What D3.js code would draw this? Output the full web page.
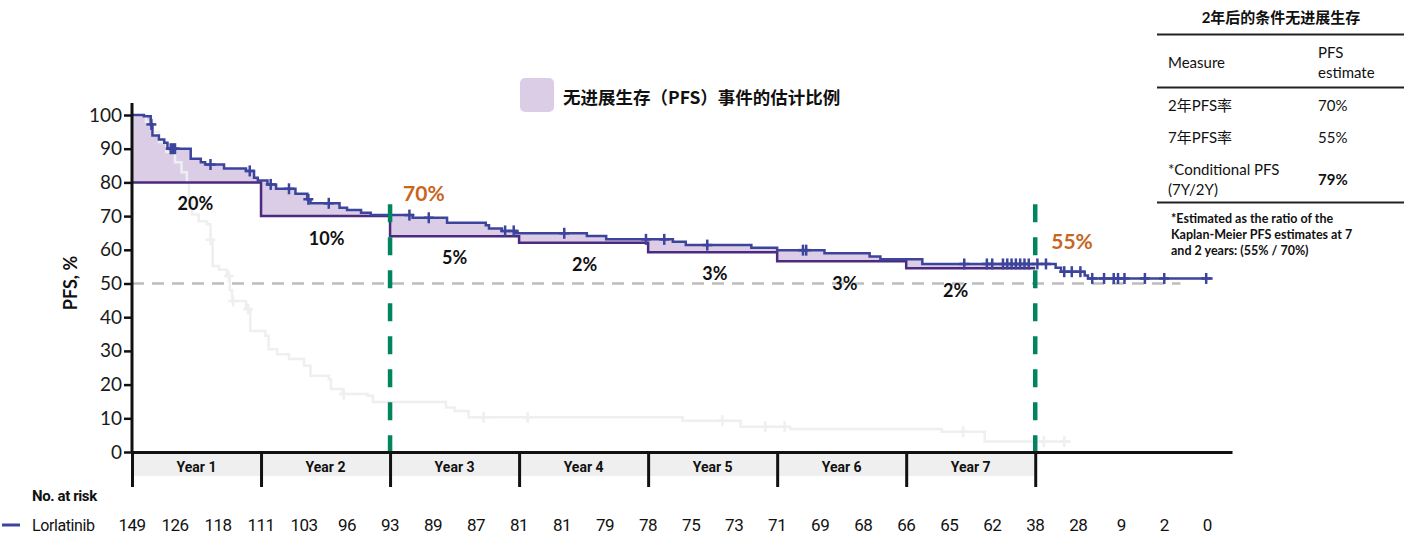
<!DOCTYPE html>
<html>
<head>
<meta charset="utf-8">
<script src="https://cdn.jsdelivr.net/npm/d3@7"></script>
<style>
body { margin: 0; background: #fff; }
svg { display: block; }
</style>
</head>
<body>
<script>
// Lorlatinib KM steps: [month, PFS %] (value after the step)
var lorlatinibSteps = [[0,100],[1.1,99.6],[1.74,97.2],[1.9,93.9],[2.5,92.7],[3.0,91.8],[3.3,90],[5.46,87],[6.4,86],[6.8,85.3],
    [8.56,84.1],[10.6,83.4],[11.35,81.4],[11.7,80.6],[12.6,79.4],[13.4,78.1],[15.2,76.6],[16.3,75],[16.6,73.8],[19.3,72.5],
    [20.0,71.8],[21.3,71.0],[22.2,70.3],[26.1,69.5],[29.3,68.0],[32.9,67.3],[33.2,66.3],[34.4,65.6],[35.7,64.9],[42.3,64.1],
    [44.1,63.1],[50.3,62.4],[51.5,61.4],[57.6,60.6],[60.0,59.9],[64.4,59.0],[68.6,58.0],[69.6,57.2],[73.5,55.8],[85.9,54.7],
    [86.4,53.5],[88.6,52.4],[88.9,51.5],[100.5,51.5]];
var lorlatinibCensor = [1.8,3.6,3.8,4.0,7.3,10.95,12.9,14.6,16.4,18.3,25.8,27.6,34.7,35.5,40.2,47.8,49.5,53.5,62.4,62.7,
    77.4,79.5,80.0,81.0,81.4,81.8,82.2,82.6,83.0,83.4,84.2,85.0,86.7,87.4,88.2,89.3,90.4,91.3,91.7,92.3,94.2,96.0,99.9];

// faded comparator curve
var comparatorSteps = [[0,100],[1.3,98],[1.9,95],[2.5,92],[3.2,89],[4.0,86],[4.6,83],[5.1,80],[5.3,75],[5.6,70.5],[6.2,68.5],
    [7.0,67.6],[7.3,63],[7.5,55.2],[8.1,54.1],[8.8,52.2],[9.1,48],[9.3,44.8],[10.6,42.4],[11.0,35.9],[12.4,34.5],[12.7,30.5],
    [13.5,29],[14.6,27.6],[16.0,25.6],[16.6,22.6],[18.3,21.6],[18.5,18.7],[19.6,17.2],[21.9,16.7],[22.4,14.8],[29.2,13.2],
    [30.0,12.2],[31.3,10.3],[51.2,9.3],[56.6,7.5],[61.2,6.8],[75.3,6.0],[79.3,3.1],[87.3,3.1]];
var comparatorCensor = [7.3,9.0,9.4,10.8,19.7,32.7,36.8,54.9,58.9,60.7,77.3,84.8,86.7];

// PFS at end of each year (floor of shaded area)
var yearFloors = [80, 70, 64, 62.1, 59.3, 56.6, 54.5];
var yearLabels = ["Year 1","Year 2","Year 3","Year 4","Year 5","Year 6","Year 7"];
var eventLabels = ["20%","10%","5%","2%","3%","3%","2%"];
var eventLabelPos = [[5.9,73.8],[18.1,63.5],[30.0,57.8],[42.1,55.8],[54.2,53.1],[66.3,50.1],[76.6,48.1]];
var markMonths = [24, 84];
var markLabels = ["70%", "55%"];
var riskCounts = [149,126,118,111,103,96,93,89,87,81,81,79,78,75,73,71,69,68,66,65,62,38,28,9,2,0];
var yTicks = [0,10,20,30,40,50,60,70,80,90,100];

var tableRows = [["2年PFS率","70%"],["7年PFS率","55%"]];

var fontLat = "Lato, 'Noto Sans', sans-serif";
var fontCjk = "Lato, 'Noto Sans CJK SC', sans-serif";
var fontNum = "Roboto, sans-serif";
var kmColor = "#3c449c", floorColor = "#4b2a80", fillColor = "#dccde7";
var greenColor = "#00855f", orange = "#c9651c", fadedColor = "#efefef";

var svg = d3.select("body").append("svg").attr("width", 1415).attr("height", 545);

var x = d3.scaleLinear().domain([0, 102.3]).range([132, 1232]);
var y = d3.scaleLinear().domain([0, 100]).range([452, 115]);

function stepVal(steps, m) {
    var v = steps[0][1];
    steps.forEach(function(s) { if (s[0] <= m) v = s[1]; });
    return v;
}
function floorAt(m) { return yearFloors[Math.min(yearFloors.length - 1, Math.floor(m / 12))]; }

// year band under axis
svg.append("rect").attr("x", x(0)).attr("y", 454).attr("width", x(84) - x(0)).attr("height", 22).attr("fill", "#efefef");

// shaded area between KM and year floor
var areaMonths = lorlatinibSteps.map(function(s) { return s[0]; }).filter(function(m) { return m < 84; });
d3.range(0, 85, 12).forEach(function(m) { areaMonths.push(m); });
areaMonths = Array.from(new Set(areaMonths)).sort(function(a, b) { return a - b; });
var area = d3.area().curve(d3.curveStepAfter)
    .x(function(m) { return x(m); })
    .y0(function(m) { return y(floorAt(m)); })
    .y1(function(m) { return y(stepVal(lorlatinibSteps, m)); });
svg.append("path").datum(areaMonths).attr("d", area).attr("fill", fillColor);

var line = d3.line().curve(d3.curveStepAfter).x(function(d) { return x(d[0]); }).y(function(d) { return y(d[1]); });

// comparator (faded)
svg.append("path").datum(comparatorSteps).attr("d", line).attr("fill", "none").attr("stroke", fadedColor).attr("stroke-width", 2.5);
function censorMarks(months, steps, color) {
    var g = svg.append("g").attr("stroke", color).attr("stroke-width", 2.5);
    months.forEach(function(m) {
        var cx = x(m), cy = y(stepVal(steps, m));
        g.append("line").attr("x1", cx).attr("x2", cx).attr("y1", cy - 5.5).attr("y2", cy + 5.5);
        g.append("line").attr("x1", cx - 5).attr("x2", cx + 5).attr("y1", cy).attr("y2", cy);
    });
}
censorMarks(comparatorCensor, comparatorSteps, fadedColor);

// 50% reference
svg.append("line").attr("x1", x(0)).attr("x2", x(97.5)).attr("y1", y(50)).attr("y2", y(50))
    .attr("stroke", "#bdbdbd").attr("stroke-width", 2.5).attr("stroke-dasharray", "12,8");

// floors
var floorPts = yearFloors.map(function(v, i) { return [i * 12, v]; });
floorPts.push([84, yearFloors[yearFloors.length - 1]]);
svg.append("path").datum(floorPts).attr("d", line).attr("fill", "none").attr("stroke", floorColor).attr("stroke-width", 2.5);

// KM
svg.append("path").datum(lorlatinibSteps).attr("d", line).attr("fill", "none").attr("stroke", kmColor).attr("stroke-width", 2.5);
censorMarks(lorlatinibCensor, lorlatinibSteps, kmColor);

// green markers
markMonths.forEach(function(m) {
    svg.append("line").attr("x1", x(m)).attr("x2", x(m)).attr("y1", y(73.5)).attr("y2", y(0))
        .attr("stroke", greenColor).attr("stroke-width", 4.5).attr("stroke-dasharray", "18,15");
});
svg.append("text").attr("x", x(24) + 13).attr("y", 192).attr("dominant-baseline", "central")
    .attr("font-family", fontLat).attr("font-weight", 700).attr("font-size", 21).attr("fill", orange).text(markLabels[0]);
svg.append("text").attr("x", x(84) + 16).attr("y", 240).attr("dominant-baseline", "central")
    .attr("font-family", fontLat).attr("font-weight", 700).attr("font-size", 21).attr("fill", orange).text(markLabels[1]);

// event labels
svg.append("g").selectAll("text").data(eventLabels).join("text")
    .attr("x", function(d, i) { return x(eventLabelPos[i][0]); })
    .attr("y", function(d, i) { return y(eventLabelPos[i][1]); })
    .attr("text-anchor", "middle").attr("dominant-baseline", "central")
    .attr("font-family", fontLat).attr("font-weight", 700).attr("font-size", 18).attr("fill", "#111")
    .text(function(d) { return d; });

// axes
var yAxis = svg.append("g").attr("transform", "translate(" + x(0) + ",0)")
    .call(d3.axisLeft(y).tickValues(yTicks).tickSize(8).tickPadding(2));
yAxis.select(".domain").remove();
yAxis.selectAll("line").attr("stroke", "#111").attr("stroke-width", 2.5);
yAxis.selectAll("text").attr("font-family", fontLat).attr("font-size", 19).attr("fill", "#1a1a1a");
svg.append("line").attr("x1", x(0)).attr("x2", x(0)).attr("y1", 103).attr("y2", y(0)).attr("stroke", "#111").attr("stroke-width", 3);

var xAxis = svg.append("g").attr("transform", "translate(0," + y(0) + ")")
    .call(d3.axisBottom(x).tickValues(d3.range(0, 85, 12)).tickSize(35).tickSizeOuter(0).tickFormat(""));
xAxis.select(".domain").attr("stroke", "#111").attr("stroke-width", 3);
xAxis.selectAll("line").attr("stroke", "#111").attr("stroke-width", 3);

svg.append("g").selectAll("text").data(yearLabels).join("text")
    .attr("x", function(d, i) { return x(i * 12 + 6); }).attr("y", 467)
    .attr("text-anchor", "middle").attr("dominant-baseline", "central")
    .attr("font-family", fontNum).attr("font-weight", 700).attr("font-size", 14).attr("fill", "#111")
    .text(function(d) { return d; });

svg.append("text").attr("transform", "translate(70,283) rotate(-90)").attr("text-anchor", "middle")
    .attr("dominant-baseline", "central").attr("font-family", fontLat).attr("font-weight", 700)
    .attr("font-size", 18).attr("fill", "#111").text("PFS, %");

// legend
svg.append("rect").attr("x", 520).attr("y", 78).attr("width", 34).attr("height", 34).attr("rx", 5).attr("fill", fillColor);
svg.append("text").attr("x", 563).attr("y", 96).attr("dominant-baseline", "central")
    .attr("font-family", "'Noto Sans CJK SC', sans-serif").attr("font-weight", 700).attr("font-size", 17.5)
    .attr("fill", "#111").text("无进展生存（PFS）事件的估计比例");

// risk table
svg.append("text").attr("x", 32).attr("y", 496).attr("dominant-baseline", "central")
    .attr("font-family", fontNum).attr("font-weight", 700).attr("font-size", 15).attr("letter-spacing", -0.4)
    .attr("fill", "#111").text("No. at risk");
svg.append("line").attr("x1", 2).attr("x2", 20).attr("y1", 525).attr("y2", 525).attr("stroke", kmColor).attr("stroke-width", 3);
svg.append("text").attr("x", 32).attr("y", 525).attr("dominant-baseline", "central")
    .attr("font-family", fontNum).attr("font-size", 16).attr("letter-spacing", -0.4).attr("fill", "#111").text("Lorlatinib");
svg.append("g").selectAll("text").data(riskCounts).join("text")
    .attr("x", function(d, i) { return x(i * 4); }).attr("y", 525)
    .attr("text-anchor", "middle").attr("dominant-baseline", "central")
    .attr("font-family", fontNum).attr("font-size", 17).attr("letter-spacing", -0.5).attr("fill", "#111")
    .text(function(d) { return d; });

// right table
var tb = svg.append("g");
tb.append("text").attr("x", 1281).attr("y", 17).attr("text-anchor", "middle").attr("dominant-baseline", "central")
    .attr("font-family", fontCjk).attr("font-weight", 700).attr("font-size", 15).attr("fill", "#111").text("2年后的条件无进展生存");
[34.5, 87.5, 202.5].forEach(function(ly) {
    tb.append("line").attr("x1", 1157).attr("x2", 1404).attr("y1", ly).attr("y2", ly).attr("stroke", "#222").attr("stroke-width", 2);
});
function cell(tx, ty, txt, bold, size) {
    tb.append("text").attr("x", tx).attr("y", ty).attr("dominant-baseline", "central")
        .attr("font-family", fontCjk).attr("font-weight", bold ? 700 : 400).attr("font-size", size || 15)
        .attr("fill", "#111").text(txt);
}
cell(1168, 62, "Measure");
cell(1318, 52, "PFS");
cell(1318, 72, "estimate");
tableRows.forEach(function(r, i) {
    cell(1168, 105 + i * 32, r[0]);
    cell(1318, 105 + i * 32, r[1]);
});
cell(1168, 169, "*Conditional PFS");
cell(1168, 189, "(7Y/2Y)");
cell(1318, 179, "79%", true);
cell(1171, 218, "*Estimated as the ratio of the", true, 12.5);
cell(1171, 234, "Kaplan-Meier PFS estimates at 7", true, 12.5);
cell(1171, 250, "and 2 years: (55% / 70%)", true, 12.5);
</script>
</body>
</html>
